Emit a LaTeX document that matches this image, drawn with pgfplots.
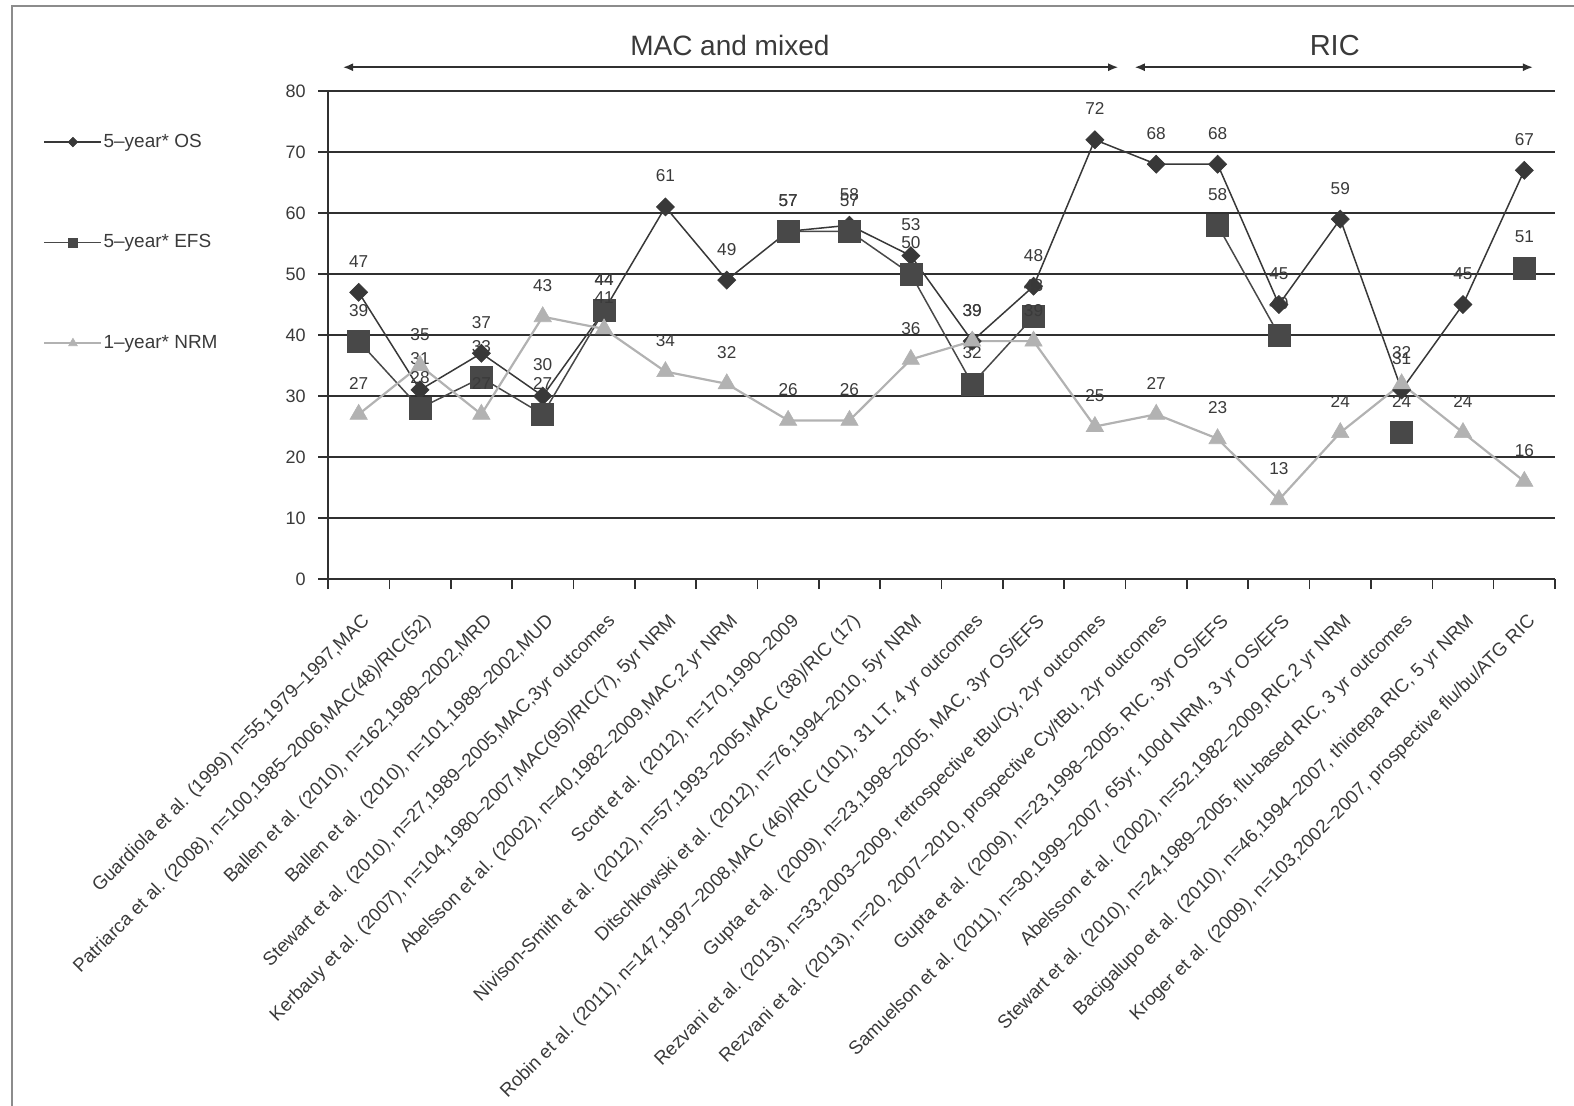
\documentclass[border=0pt]{standalone}
\usepackage{pgfplots}
\usepackage{pgfplotstable}
\pgfplotsset{compat=1.18}
\usepackage{fontspec}
\setmainfont{Liberation Sans}
\usetikzlibrary{arrows.meta}

\definecolor{osdark}{HTML}{383838}
\definecolor{efsdark}{HTML}{484848}
\definecolor{nrmlight}{HTML}{B2B2B2}
\definecolor{gridc}{HTML}{303030}
\definecolor{txt}{HTML}{3A3A3A}
\definecolor{framec}{HTML}{8C8C8C}

% 5-year OS, 5-year EFS and 1-year NRM (%) per study
\pgfplotstableread{
x  os  efs  nrm
1  47  39   27
2  31  28   35
3  37  33   27
4  30  27   43
5  44  44   41
6  61  nan  34
7  49  nan  32
8  57  57   26
9  58  57   26
10 53  50   36
11 39  32   39
12 48  43   39
13 72  nan  25
14 68  nan  27
15 68  58   23
16 45  40   13
17 59  nan  24
18 31  24   32
19 45  nan  24
20 67  51   16
}\studydata

\begin{document}
\begin{tikzpicture}
\useasboundingbox (0,0) rectangle (787bp,-553bp);
\draw[framec, line width=1.2bp] (6bp,-553bp) -- (6bp,-3bp) -- (787bp,-3bp);
\begin{axis}[
  at={(164bp,-289.5bp)}, anchor=south west,
  scale only axis, width=613.5bp, height=244bp,
  xmin=0.5, xmax=20.5, ymin=0, ymax=80,
  axis x line*=bottom, axis y line*=left,
  axis line style={-, gridc, line width=0.8bp},
  ytick={0,10,...,80},
  xtick={1,...,20},
  minor xtick={0.5,1.5,...,20.5},
  tick align=outside,
  major tick length=5bp, minor tick length=5bp,
  tick style={gridc, line width=0.8bp},
  major x tick style={draw=none},
  ymajorgrids, grid style={gridc, line width=0.9bp},
  /pgf/number format/assume math mode=true,
  yticklabel style={font=\fontsize{9bp}{11bp}\selectfont, text=txt, anchor=east, inner sep=0pt, xshift=-6bp},
  xticklabel style={font=\fontsize{9.4bp}{11bp}\selectfont, text=txt, inner sep=0pt, xshift=1bp, yshift=-11.5bp, rotate=45, anchor=north east},
  xticklabels={
    {Guardiola et al. (1999) n=55,1979–1997,MAC},
    {Patriarca et al. (2008), n=100,1985–2006,MAC(48)/RIC(52)},
    {Ballen et al. (2010), n=162,1989–2002,MRD},
    {Ballen et al. (2010), n=101,1989–2002,MUD},
    {Stewart et al. (2010), n=27,1989–2005,MAC,3yr outcomes},
    {Kerbauy et al. (2007), n=104,1980–2007,MAC(95)/RIC(7), 5yr NRM},
    {Abelsson et al. (2002), n=40,1982–2009,MAC,2 yr NRM},
    {Scott et al. (2012), n=170,1990–2009},
    {Nivison-Smith et al. (2012), n=57,1993–2005,MAC (38)/RIC (17)},
    {Ditschkowski et al. (2012), n=76,1994–2010, 5yr NRM},
    {Robin et al. (2011), n=147,1997–2008,MAC (46)/RIC (101), 31 LT, 4 yr outcomes},
    {Gupta et al. (2009), n=23,1998–2005, MAC, 3yr OS/EFS},
    {Rezvani et al. (2013), n=33,2003–2009, retrospective tBu/Cy, 2yr outcomes},
    {Rezvani et al. (2013), n=20, 2007–2010, prospective Cy/tBu, 2yr outcomes},
    {Gupta et al. (2009), n=23,1998–2005, RIC, 3yr OS/EFS},
    {Samuelson et al. (2011), n=30,1999–2007, 65yr, 100d NRM, 3 yr OS/EFS},
    {Abelsson et al. (2002), n=52,1982–2009,RIC,2 yr NRM},
    {Stewart et al. (2010), n=24,1989–2005, flu-based RIC, 3 yr outcomes},
    {Bacigalupo et al. (2010), n=46,1994–2007, thiotepa RIC, 5 yr NRM},
    {Kroger et al. (2009), n=103,2002–2007, prospective flu/bu/ATG RIC}
  },
  unbounded coords=jump,
  clip=false,
  nodes near coords,
  every node near coord/.append style={font=\fontsize{8.6bp}{10bp}\selectfont, text=txt, anchor=center, inner sep=0pt, yshift=15.5bp},
  legend style={at={(axis description cs:-0.2323,0.915)}, anchor=north west,
    draw=none, fill=none, inner sep=0pt, row sep=41.2bp,
    font=\fontsize{9.5bp}{11bp}\selectfont, text=txt,
    nodes={inner sep=0.5bp}},
  legend cell align=left,
  legend image code/.code={\draw[#1, mark repeat=2, mark phase=2] plot coordinates {(0bp,0bp) (14.25bp,0bp) (28.5bp,0bp)};},
]
\addplot[osdark, line width=0.75bp, mark=square*, mark size=3.2bp,
  mark options={rotate=45, fill=osdark, draw=osdark, line width=0.3bp},
  legend image post style={mark size=1.7bp}]
  table[x=x, y=os] {\studydata};
\addlegendentry{5–year* OS}
\addplot[efsdark, line width=0.75bp, mark=square*, mark size=5.5bp,
  mark options={fill=efsdark, draw=efsdark, line width=0.3bp},
  legend image post style={mark size=2.1bp}]
  table[x=x, y=efs] {\studydata};
\addlegendentry{5–year* EFS}
\addplot[nrmlight, line width=1.1bp, mark=triangle*, mark size=5bp,
  mark options={fill=nrmlight, draw=nrmlight, line width=0.3bp},
  legend image post style={mark size=2.5bp}]
  table[x=x, y=nrm] {\studydata};
\addlegendentry{1–year* NRM}

% treatment-group brackets above the plot
\draw[{Latex[length=5bp,width=4bp]}-{Latex[length=5bp,width=4bp]}, gridc, line width=0.8bp]
  (axis cs:0.745,83.9) -- (axis cs:13.38,83.9);
\draw[{Latex[length=5bp,width=4bp]}-{Latex[length=5bp,width=4bp]}, gridc, line width=0.8bp]
  (axis cs:13.65,83.9) -- (axis cs:20.14,83.9);
\node[font=\fontsize{14bp}{16bp}\selectfont, text=txt] at (axis cs:7.05,87.5) {MAC and mixed};
\node[font=\fontsize{14.5bp}{16bp}\selectfont, text=txt] at (axis cs:16.91,87.5) {RIC};
\end{axis}
\end{tikzpicture}
\end{document}
